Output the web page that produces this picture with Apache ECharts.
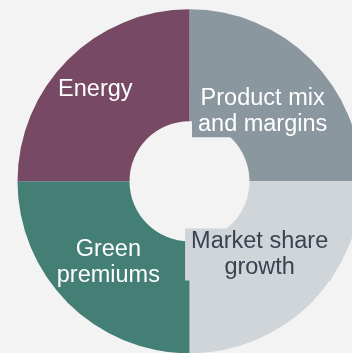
<!DOCTYPE html>
<html>
<head>
<meta charset="utf-8">
<script src="https://cdn.jsdelivr.net/npm/echarts@6/dist/echarts.min.js"></script>
<style>
  html, body { margin: 0; padding: 0; background: #f3f3f3; }
  #chart { width: 352px; height: 353px; }
</style>
</head>
<body>
<div id="chart"></div>
<script>
// Segments, clockwise from twelve o'clock
const categories = ['Product mix\nand margins', 'Market share\ngrowth', 'Green\npremiums', 'Energy'];
const shares = [25, 25, 25, 25];

// Slice fills and label styling
const fills = ['#8a979f', '#d0d5d9', '#447f76', '#774965'];
const textColors = ['#ffffff', '#3b4350', '#ffffff', '#ffffff'];
const labelBoxes = [true, true, false, false];
const labelShift = [[-12.5, 14], [-15.5, -11], [3, -3], [-10, -8]];

const chart = echarts.init(document.getElementById('chart'), null, { renderer: 'canvas' });

chart.setOption({
  backgroundColor: '#f3f3f3',
  animation: false,
  series: [{
    type: 'pie',
    center: [189.5, 181.3],
    radius: [60, 172],
    startAngle: 90,
    clockwise: true,
    silent: true,
    label: {
      show: true,
      position: 'inside',
      fontFamily: 'Liberation Sans, Arial, sans-serif',
      fontSize: 23.5,
      lineHeight: 26,
      align: 'center',
      verticalAlign: 'middle'
    },
    labelLine: { show: false },
    labelLayout: function (p) {
      const s = labelShift[p.dataIndex];
      return { dx: s[0], dy: s[1] };
    },
    data: categories.map((name, i) => ({
      name: name,
      value: shares[i],
      itemStyle: { color: fills[i], borderWidth: 0 },
      label: {
        formatter: name,
        color: textColors[i],
        padding: labelBoxes[i] ? [0, 3, 0, 6] : 0,
        backgroundColor: labelBoxes[i] ? fills[i] : 'transparent'
      }
    }))
  }]
});
</script>
</body>
</html>
